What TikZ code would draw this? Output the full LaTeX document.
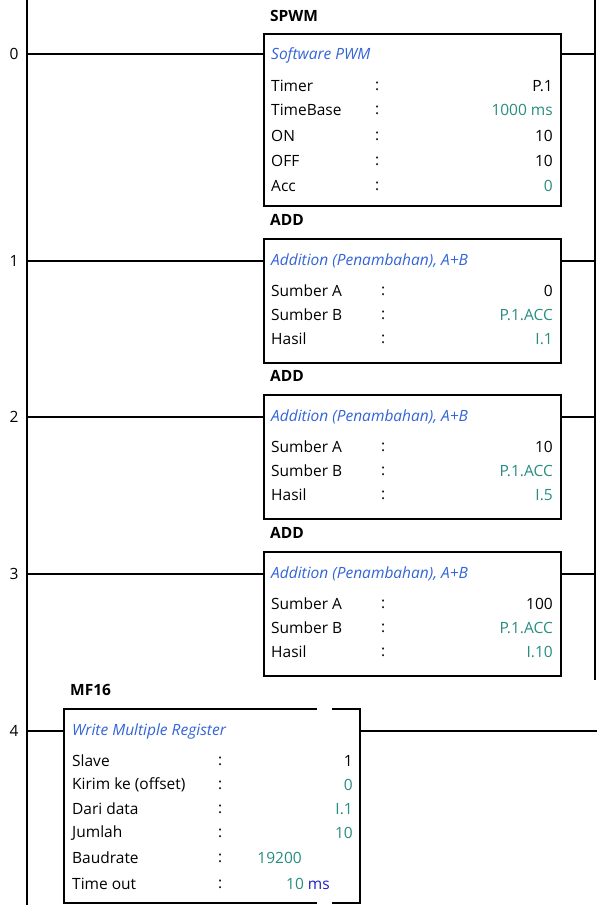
\documentclass[tikz,border=0pt]{standalone}
\usepackage{fontspec}
\setmainfont{Open Sans}
\usetikzlibrary{positioning}
\definecolor{titleblue}{RGB}{50,100,215}
\definecolor{valteal}{RGB}{40,140,128}
\definecolor{msblue}{RGB}{30,30,200}
\tikzset{
  rung/.style={line width=2.2pt},
  blockbox/.style={draw, line width=2.2pt},
  lbl/.style={anchor=west, inner sep=0pt, font=\fontsize{15.5pt}{16pt}\selectfont},
  val/.style={anchor=east, inner sep=0pt, font=\fontsize{15.5pt}{16pt}\selectfont},
  ttl/.style={anchor=west, inner sep=0pt, text=titleblue, font=\fontsize{15.5pt}{16pt}\selectfont\itshape},
  blk/.style={anchor=west, inner sep=0pt, font=\fontsize{15.5pt}{16pt}\selectfont\bfseries},
  num/.style={inner sep=0pt, font=\fontsize{15.5pt}{16pt}\selectfont}
}
\begin{document}
\begin{tikzpicture}[x=1pt,y=-1pt]
            \useasboundingbox (0,0) rectangle (606,914);
            % rails
            \coordinate (lt) at (27,0);
            \coordinate (lb) at (27,905);
            \coordinate (rt) at (595,0);
            \coordinate (rb) at (595,680);
            \draw[rung] (lt) -- (lb);
            \draw[rung] (rt) -- (rb);

            % rung 0: SPWM
            \node[num] (n0) at (14,54) {0};
            \node[blockbox, minimum width=297pt, minimum height=172pt, anchor=north west] (spwm) at (263,33) {};
            \node[blk] (spwmname) at (270,16) {SPWM};
            \draw[rung] (27,54) -- (spwm.west |- 0,54);
            \draw[rung] (spwm.east |- 0,54) -- (595,54);
            \node[ttl] at (271,55) {Software PWM};
            \foreach \y/\l/\v/\c in {86/Timer/P.1/black, 110/TimeBase/1000 ms/valteal,
                                     136/ON/10/black, 161/OFF/10/black, 186/Acc/0/valteal} {
                \node[lbl] at (271,\y) {\l};
                \node[lbl] at (375,\y) {:};
                \node[val, text=\c] at (553,\y) {\v};
            }

            % rungs 1-3: ADD
            \foreach \i/\r/\a/\h in {1/261/0/I.1, 2/417/10/I.5, 3/574/100/I.10} {
                \node[num] (n\i) at (14,\r) {\i};
                \node[blockbox, minimum width=297pt, minimum height=124pt, anchor=north west] (add\i) at (263,\r-23) {};
                \node[blk] at (270,\r-41) {ADD};
                \draw[rung] (27,\r) -- (add\i.west |- 0,\r);
                \draw[rung] (add\i.east |- 0,\r) -- (595,\r);
                \node[ttl] at (271,\r) {Addition (Penambahan), A+B};
                \node[lbl] at (271,\r+30) {Sumber A};
                \node[lbl] at (271,\r+54) {Sumber B};
                \node[lbl] at (271,\r+78) {Hasil};
                \foreach \d in {30,54,78} \node[lbl] at (381,\r+\d) {:};
                \node[val] at (553,\r+30) {\a};
                \node[val, text=valteal] at (553,\r+54) {P.1.ACC};
                \node[val, text=valteal] at (553,\r+78) {\h};
            }

            % rung 4: MF16
            \node[num] (n4) at (14,731) {4};
            \coordinate (mnw) at (64,709);
            \coordinate (mse) at (360,903);
            \node[blk] at (70,690) {MF16};
            \draw[blockbox] (317,709) -- (mnw) -- (64,903) -- (317,903);
            \draw[blockbox] (332,709) -- (360,709) -- (mse) -- (332,903);
            \draw[rung] (27,731) -- (64,731);
            \draw[rung] (360,731) -- (597,731);
            \node[ttl] at (72,731) {Write Multiple Register};
            \foreach \y/\l/\v/\c in {761/Slave/1/black, 785/Kirim ke (offset)/0/valteal,
                                     809/Dari data/I.1/valteal, 833/Jumlah/10/valteal} {
                \node[lbl] at (72,\y) {\l};
                \node[lbl] at (218,\y) {:};
                \node[val, text=\c] at (353,\y) {\v};
            }
            \node[lbl] at (72,858) {Baudrate};
            \node[lbl] at (218,858) {:};
            \node[val, text=valteal] at (302,858) {19200};
            \node[lbl] at (72,884) {Time out};
            \node[lbl] at (218,884) {:};
            \node[val] at (330,884) {\textcolor{valteal}{10} \textcolor{msblue}{ms}};
        \end{tikzpicture}
\end{document}
